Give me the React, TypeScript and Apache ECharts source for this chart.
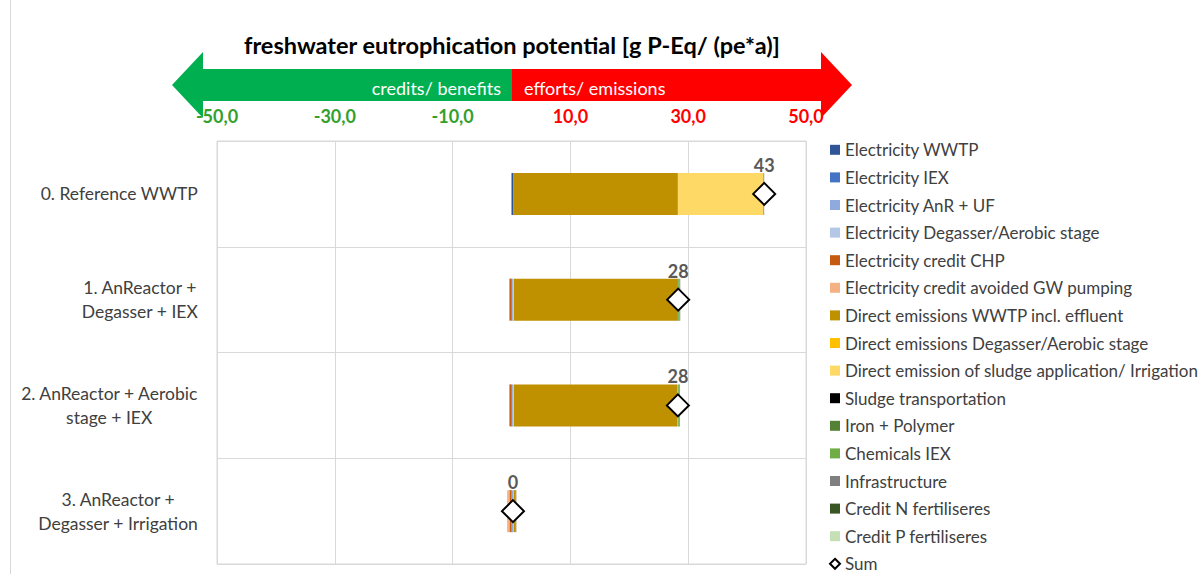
import React, { useEffect, useRef } from "react";
import * as echarts from "echarts";

const categories = [
  "0. Reference WWTP",
  "1. AnReactor +\nDegasser + IEX",
  "2. AnReactor + Aerobic\nstage + IEX",
  "3. AnReactor +\nDegasser + Irrigation",
];

const tickLabels = ["-50,0", "-30,0", "-10,0", "10,0", "30,0", "50,0"];

const seriesNames = [
  "Electricity WWTP",
  "Electricity IEX",
  "Electricity AnR + UF",
  "Electricity Degasser/Aerobic stage",
  "Electricity credit CHP",
  "Electricity credit avoided GW pumping",
  "Direct emissions WWTP incl. effluent",
  "Direct emissions Degasser/Aerobic stage",
  "Direct emission of sludge application/ Irrigation",
  "Sludge transportation",
  "Iron + Polymer",
  "Chemicals IEX",
  "Infrastructure",
  "Credit N fertiliseres",
  "Credit P fertiliseres",
];

const seriesColors = [
  "#2F5597",
  "#4472C4",
  "#8FAADC",
  "#B4C7E7",
  "#C55A11",
  "#F4B183",
  "#BF9000",
  "#FFC000",
  "#FFD966",
  "#000000",
  "#548235",
  "#70AD47",
  "#7F7F7F",
  "#375623",
  "#C5E0B4",
];

const electricityWWTP = [0.35, 0.1, 0.1, 0.05];
const electricityIEX = [0, 0.05, 0.05, 0];
const electricityAnR = [0, 0.15, 0.15, 0.2];
const electricityDegasser = [0, 0.1, 0.1, 0.15];
const creditCHP = [0, -0.35, -0.35, -0.35];
const creditGWPumping = [0, 0, 0, -0.25];
const directWWTP = [27.9, 27.85, 27.7, 0.35];
const directDegasser = [0, 0, 0.15, 0];
const directSludge = [14.5, 0, 0, 0.05];
const sludgeTransport = [0, 0, 0, 0];
const ironPolymer = [0.05, 0.05, 0.05, 0];
const chemicalsIEX = [0, 0.25, 0.2, 0];
const infrastructure = [0.1, 0.1, 0.1, 0.05];
const creditN = [0, 0, 0, -0.05];
const creditP = [0, 0, 0, -0.05];

const seriesValues = [
  electricityWWTP,
  electricityIEX,
  electricityAnR,
  electricityDegasser,
  creditCHP,
  creditGWPumping,
  directWWTP,
  directDegasser,
  directSludge,
  sludgeTransport,
  ironPolymer,
  chemicalsIEX,
  infrastructure,
  creditN,
  creditP,
];

const sumValues = [42.9, 28.3, 28.25, 0.25];

const FONT = "Lato, 'Noto Sans', sans-serif";
const GREEN_TXT = "#34A02C";
const RED_TXT = "#FF0000";

export default function App() {
  const ref = useRef<HTMLDivElement>(null);

  useEffect(() => {
    document.body.style.margin = "0";
    const chart = echarts.init(ref.current!, undefined, { renderer: "svg" });

    const barSeries = seriesNames.map((name, i) => ({
      name,
      type: "bar",
      stack: "total",
      xAxisIndex: 0,
      yAxisIndex: 0,
      barWidth: 42,
      itemStyle: { color: seriesColors[i] },
      data: seriesValues[i],
    }));

    const option: any = {
      animation: false,
      textStyle: { fontFamily: FONT },
      grid: {
        left: 217,
        right: 394,
        top: 141,
        bottom: 10,
        show: true,
        borderColor: "#D9D9D9",
        borderWidth: 1,
        containLabel: false,
      },
      xAxis: [
        {
          type: "value",
          min: -50,
          max: 50,
          show: false,
        },
        {
          type: "value",
          min: 0,
          max: 100,
          interval: 20,
          position: "top",
          axisLine: { show: false },
          axisTick: { show: false },
          splitLine: { show: true, lineStyle: { color: "#D9D9D9", width: 1 } },
          axisLabel: {
            margin: 16,
            fontSize: 18,
            fontWeight: "bold",
            fontFamily: FONT,
            formatter: (_v: number, idx: number) => tickLabels[idx],
            color: (_v: any, idx: number) => (idx < 3 ? GREEN_TXT : RED_TXT),
          },
        },
      ],
      yAxis: {
        type: "category",
        inverse: true,
        data: categories,
        axisLine: { show: false },
        axisTick: { show: false },
        splitLine: { show: true, lineStyle: { color: "#D9D9D9", width: 1 } },
        axisLabel: {
          margin: 19,
          align: "right",
          formatter: (v: string) =>
            v
              .split("\n")
              .map((l) => `{c|${l}}`)
              .join("\n"),
          rich: {
            c: {
              align: "center",
              fontSize: 17.5,
              lineHeight: 24,
              color: "#404040",
              fontFamily: FONT,
            },
          },
        },
      },
      legend: {
        orient: "vertical",
        left: 829,
        top: 136,
        height: 470,
        padding: 0,
        itemWidth: 10,
        itemHeight: 10,
        itemGap: 0,
        textStyle: {
          fontSize: 17,
          lineHeight: 27.6,
          color: "#404040",
          fontFamily: FONT,
        },
        data: [
          ...seriesNames.map((n) => ({ name: n, icon: "rect" })),
          { name: "Sum", icon: "diamond" },
        ],
      },
      graphic: [
        {
          type: "line",
          shape: { x1: 10.5, y1: 0, x2: 10.5, y2: 574 },
          style: { stroke: "#D9D9D9", lineWidth: 1 },
          silent: true,
        },
        {
          type: "polygon",
          shape: {
            points: [
              [512, 69],
              [203, 69],
              [203, 52],
              [172, 85],
              [203, 118],
              [203, 101],
              [512, 101],
            ],
          },
          style: { fill: "#00B050" },
          z: -1,
        },
        {
          type: "polygon",
          shape: {
            points: [
              [512, 69],
              [821, 69],
              [821, 52],
              [852, 85],
              [821, 118],
              [821, 101],
              [512, 101],
            ],
          },
          style: { fill: "#FF0000" },
          z: -1,
        },
        {
          type: "text",
          x: 501,
          y: 88,
          style: {
            text: "credits/ benefits",
            fill: "#FFFFFF",
            font: `18px ${FONT}`,
            textAlign: "right",
            textVerticalAlign: "middle",
          },
        },
        {
          type: "text",
          x: 524,
          y: 88,
          style: {
            text: "efforts/ emissions",
            fill: "#FFFFFF",
            font: `18px ${FONT}`,
            textAlign: "left",
            textVerticalAlign: "middle",
          },
        },
        {
          type: "text",
          x: 512,
          y: 45,
          style: {
            text: "freshwater eutrophication potential [g P-Eq/ (pe*a)]",
            fill: "#000000",
            font: `bold 23.5px ${FONT}`,
            textAlign: "center",
            textVerticalAlign: "middle",
          },
        },
      ],
      series: [
        ...barSeries,
        {
          name: "Sum",
          type: "scatter",
          xAxisIndex: 0,
          yAxisIndex: 0,
          symbol: "diamond",
          symbolSize: 22,
          itemStyle: {
            color: "#FFFFFF",
            borderColor: "#000000",
            borderWidth: 2,
            opacity: 1,
          },
          label: {
            show: true,
            position: "top",
            distance: 8,
            fontSize: 18,
            fontWeight: "bold",
            color: "#595959",
            fontFamily: FONT,
            formatter: (p: any) => String(Math.round(p.value[0])),
          },
          data: sumValues.map((v, i) => [v, i]),
          z: 5,
        },
      ],
    };

    chart.setOption(option);
    return () => chart.dispose();
  }, []);

  return <div ref={ref} style={{ width: 1200, height: 574 }} />;
}
